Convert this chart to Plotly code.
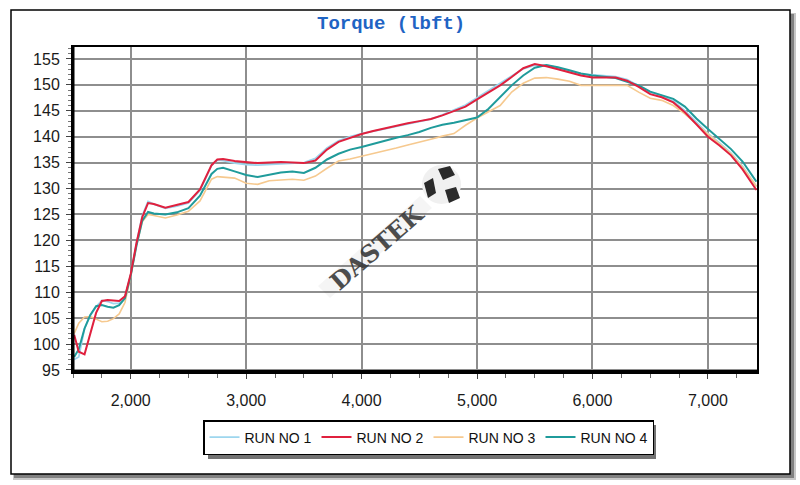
import plotly.graph_objects as go

rpm = [1510, 1550, 1600, 1650, 1700, 1750, 1800, 1850, 1900, 1950, 2000, 2050, 2100, 2150, 2200,
       2300, 2400, 2500, 2600, 2700, 2750, 2800, 2900, 3000, 3100, 3200, 3300, 3400, 3500, 3600,
       3700, 3800, 3900, 4000, 4100, 4200, 4300, 4400, 4500, 4600, 4700, 4800, 4900, 5000, 5100,
       5200, 5300, 5400, 5500, 5600, 5700, 5800, 5900, 6000, 6100, 6200, 6300, 6400, 6500, 6600,
       6700, 6800, 6900, 7000, 7100, 7200, 7300, 7420]

run1 = [97.0, 97.5, 103.0, 105.5, 107.2, 108.4, 108.2, 107.8, 107.9, 109.0, 113.3, 119.5, 124.8, 127.5, 127.0,
        126.2, 126.6, 127.2, 129.6, 134.4, 135.5, 135.4, 134.9, 134.6, 134.5, 134.6, 134.8, 134.9, 135.0, 135.8,
        137.8, 139.2, 140.0, 140.6, 141.0, 141.5, 142.0, 142.5, 142.9, 143.4, 144.2, 145.2, 146.1, 147.5, 148.9,
        150.3, 151.8, 153.1, 153.8, 153.8, 153.3, 152.6, 152.1, 151.9, 151.8, 151.6, 151.0, 149.8, 148.6, 147.9,
        146.9, 145.0, 142.9, 140.6, 138.8, 136.8, 134.3, 130.4]

run2 = [101.8, 98.5, 98.0, 102.0, 106.0, 108.3, 108.5, 108.4, 108.3, 109.2, 113.5, 119.5, 124.5, 127.2, 127.0,
        126.3, 126.8, 127.4, 129.8, 134.5, 135.6, 135.7, 135.3, 135.1, 134.9, 135.0, 135.1, 135.0, 134.9, 135.4,
        137.5, 139.0, 139.8, 140.5, 141.1, 141.6, 142.2, 142.6, 143.0, 143.4, 144.1, 145.0, 145.8, 147.2, 148.5,
        149.9, 151.5, 153.2, 154.0, 153.6, 153.0, 152.4, 151.8, 151.4, 151.4, 151.4, 150.8, 149.6, 148.2, 147.6,
        146.6, 144.7, 142.4, 140.0, 138.3, 136.4, 133.7, 129.7]

run3 = [102.0, 104.0, 105.2, 105.3, 104.8, 104.3, 104.4, 104.9, 105.8, 108.0, 113.0, 119.0, 123.6, 125.0, 124.8,
        124.3, 124.9, 125.6, 127.6, 131.8, 132.3, 132.2, 132.0, 131.0, 130.8, 131.5, 131.7, 131.8, 131.6, 132.4,
        133.9, 135.3, 135.7, 136.2, 136.7, 137.2, 137.8, 138.4, 138.9, 139.5, 140.1, 140.6, 142.2, 143.6, 144.8,
        146.0, 148.6, 150.3, 151.3, 151.4, 151.1, 150.7, 149.9, 149.9, 150.0, 150.0, 149.9, 148.6, 147.4, 147.0,
        146.0, 144.4, 142.4, 140.5, 138.6, 136.7, 134.1, 130.4]

run4 = [97.5, 99.0, 103.0, 105.6, 107.3, 107.5, 107.2, 107.0, 107.5, 108.8, 113.2, 119.0, 123.8, 125.5, 125.2,
        125.0, 125.4, 126.2, 128.6, 132.8, 133.8, 134.0, 133.3, 132.6, 132.2, 132.6, 133.1, 133.3, 133.0, 134.0,
        135.6, 136.7, 137.5, 138.0, 138.6, 139.3, 139.8, 140.3, 140.9, 141.7, 142.3, 142.7, 143.2, 143.7, 145.4,
        147.6, 149.9, 151.8, 153.3, 153.8, 153.4, 152.8, 152.2, 151.8, 151.6, 151.3, 150.6, 149.9, 148.7, 148.0,
        147.3, 145.8, 143.5, 141.5, 139.6, 137.6, 135.2, 131.3]

names = ["RUN NO 1", "RUN NO 2", "RUN NO 3", "RUN NO 4"]
colors = ["#9dd6ee", "#e0203e", "#f6c98f", "#1f9b9b"]
series = [run1, run2, run3, run4]
widths = [1.8, 2.0, 1.6, 2.0]
draw_order = [0, 2, 3, 1]

# plot-area geometry (pixels) used for decorations only
L, R, T, B = 73, 757, 47, 372
W, H = R - L, B - T


def px(x):
    return (x - L) / W


def py(y):
    return (B - y) / H


def poly(points):
    return "M " + " L ".join(f"{px(a):.5f},{py(b):.5f}" for a, b in points) + " Z"


fig = go.Figure()
for i in draw_order:
    fig.add_trace(go.Scatter(
        x=rpm, y=series[i], mode="lines", name=names[i], legendrank=i + 1,
        line=dict(color=colors[i], width=widths[i]),
    ))

shapes = []
# outer frame shadow + frame
shapes.append(dict(type="rect", xref="paper", yref="paper", x0=px(13), x1=px(796), y0=py(480), y1=py(13),
                   fillcolor="rgba(0,0,0,0.22)", line=dict(width=0), layer="below"))
shapes.append(dict(type="rect", xref="paper", yref="paper", x0=px(14), x1=px(794), y0=py(478), y1=py(14),
                   fillcolor="rgba(0,0,0,0.35)", line=dict(width=0), layer="below"))
shapes.append(dict(type="rect", xref="paper", yref="paper", x0=px(11), x1=px(790), y0=py(474), y1=py(10),
                   fillcolor="white", line=dict(color="black", width=1.5), layer="below"))
# faint band behind the watermark
shapes.append(dict(type="path", xref="paper", yref="paper",
                   path=poly([(318, 286), (420, 196), (432, 208), (330, 298)]),
                   fillcolor="rgba(0,0,0,0.04)", line=dict(width=0), layer="above"))
# soccer ball of watermark
shapes.append(dict(type="circle", xref="paper", yref="paper", x0=px(422), x1=px(461), y0=py(204), y1=py(165),
                   fillcolor="#f0f0f0", line=dict(width=0), layer="above"))
for pts in ([(438, 169), (450, 166), (455, 175), (443, 180)],
            [(424, 183), (433, 178), (436, 193), (428, 198)],
            [(445, 190), (456, 187), (460, 198), (449, 203)]):
    shapes.append(dict(type="path", xref="paper", yref="paper", path=poly(pts),
                       fillcolor="#2a2a2a", line=dict(width=0), layer="above"))
# legend shadow
shapes.append(dict(type="rect", xref="paper", yref="paper", x0=px(208), x1=px(656), y0=py(459), y1=py(425),
                   fillcolor="rgba(0,0,0,0.55)", line=dict(width=0), layer="above"))
# thick bottom/left axis lines
shapes.append(dict(type="line", xref="paper", yref="paper", x0=0, x1=1, y0=0, y1=0,
                   line=dict(color="black", width=4), layer="above"))
shapes.append(dict(type="line", xref="paper", yref="paper", x0=0, x1=0, y0=0, y1=1,
                   line=dict(color="black", width=3), layer="above"))

annotations = [
    dict(text="<b>Torque (lbft)</b>", xref="paper", yref="paper", x=px(391), y=py(24), showarrow=False,
         xanchor="center", yanchor="middle",
         font=dict(family="Liberation Mono, Courier New, monospace", size=19, color="#1f64c4")),
    dict(text="<b>DASTEK</b>", xref="paper", yref="paper", x=px(377), y=py(248), showarrow=False,
         textangle=-41, font=dict(family="DejaVu Serif, serif", size=24, color="#3a3a3a"), opacity=0.9),
]

fig.update_layout(
    width=800, height=485,
    margin=dict(l=L, r=800 - R, t=T, b=485 - B),
    paper_bgcolor="white", plot_bgcolor="rgba(0,0,0,0)",
    shapes=shapes, annotations=annotations,
    font=dict(family="Liberation Sans, Arial, sans-serif", size=16, color="#1a1a1a"),
    showlegend=True,
    legend=dict(orientation="h", x=px(203), xanchor="left", y=py(420), yanchor="top",
                bgcolor="white", bordercolor="black", borderwidth=1.5,
                font=dict(size=14, color="#111"), itemwidth=30, traceorder="normal",
                entrywidth=67, entrywidthmode="pixels"),
    xaxis=dict(range=[1500, 7425], dtick=1000, tick0=0, tickformat=",", showgrid=True,
               gridcolor="#8e8e8e", gridwidth=1.5, zeroline=False,
               showline=True, linecolor="black", linewidth=2, mirror=True,
               ticks="outside", ticklen=5, tickcolor="#444", ticklabelstandoff=8,
               minor=dict(dtick=250, tick0=0, ticks="outside", ticklen=4, tickcolor="#666", showgrid=False)),
    yaxis=dict(range=[94.6, 157.3], dtick=5, tick0=0, showgrid=True,
               gridcolor="#8e8e8e", gridwidth=1.5, zeroline=False,
               showline=True, linecolor="black", linewidth=2, mirror=True,
               ticks="outside", ticklen=5, tickcolor="#444", ticklabelstandoff=3,
               minor=dict(dtick=1, tick0=0, ticks="outside", ticklen=3, tickcolor="#777", showgrid=False)),
)

fig.write_html("out.html")
